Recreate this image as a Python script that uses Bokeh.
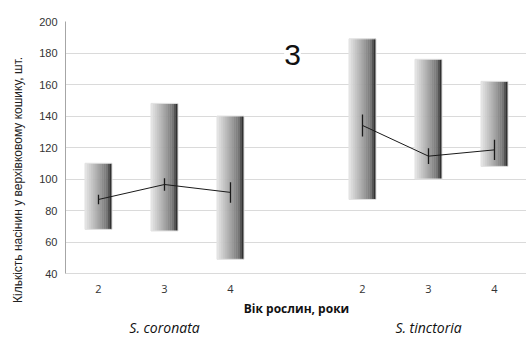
from bokeh.plotting import figure
from bokeh.models import FixedTicker, Range1d, Label
from bokeh.core.properties import value
from bokeh.embed import file_html
from bokeh.resources import INLINE

# ---- data ----
ages = ["2", "3", "4"]
species = ["S. coronata", "S. tinctoria"]
x_title = "Вік рослин, роки"
y_title = "Кількість насінин у верхівковому кошику, шт."
cor_low = [68, 67, 49]
cor_high = [110, 148, 140]
cor_mean = [87, 96.5, 91.5]
cor_err = [3, 4, 6.5]
tin_low = [87, 100, 108]
tin_high = [189, 176, 162]
tin_mean = [134, 114.5, 118.5]
tin_err = [7, 5, 6.5]
y_ticks = [40, 60, 80, 100, 120, 140, 160, 180, 200]
panel_label = "3"

# positions (slot index) for each group; one empty slot between species
cor_pos = [1, 2, 3]
tin_pos = [5, 6, 7]
bar_w = 0.41
n_strips = 40

# layout: value axis 40..200 spans 252 px, frame continues 65 px below it
W, H = 526, 338
left_px, top_px = 65, 21
slot_px = 66
y_lo, y_hi = y_ticks[0], y_ticks[-1]
frame_axis_px = 252
below_px = H - top_px - frame_axis_px
y_start = y_lo - below_px / frame_axis_px * (y_hi - y_lo)
x_end = 0.5 + (W - left_px) / slot_px

p = figure(width=W, height=H, output_backend="svg", toolbar_location=None,
           x_range=Range1d(0.5, x_end), y_range=Range1d(y_start, y_hi),
           min_border_left=left_px, min_border_right=0, min_border_top=top_px,
           min_border_bottom=0)
p.outline_line_color = None
p.background_fill_color = "white"
p.xaxis.visible = False

# gridlines
p.xgrid.grid_line_color = None
p.ygrid.ticker = FixedTicker(ticks=y_ticks)
p.ygrid.grid_line_color = "#b4b4b4"
p.ygrid.grid_line_dash = "1 1"
p.ygrid.grid_line_width = 1


def shade(t):
    if t <= 0.8:
        return 232 - 140 * t
    return 120 - (t - 0.8) / 0.2 * 95


def draw_bars(pos, low, high):
    for x, lo, hi in zip(pos, low, high):
        left0 = x - bar_w / 2
        sw = bar_w / n_strips
        lefts, rights, cols = [], [], []
        for i in range(n_strips):
            t = (i + 0.5) / n_strips
            g = int(shade(t))
            lefts.append(left0 + i * sw)
            rights.append(min(left0 + (i + 1.6) * sw, x + bar_w / 2))
            cols.append("#%02x%02x%02x" % (g, g, g))
        p.quad(left=lefts, right=rights, bottom=[lo] * n_strips, top=[hi] * n_strips,
               fill_color=cols, line_color=None)
        p.quad(left=[left0], right=[x + bar_w / 2], bottom=[lo], top=[hi],
               fill_color=None, line_color="#e2e2e2", line_width=1)


draw_bars(cor_pos, cor_low, cor_high)
draw_bars(tin_pos, tin_low, tin_high)

# mean lines and error bars
for pos, mean, err in ((cor_pos, cor_mean, cor_err), (tin_pos, tin_mean, tin_err)):
    p.line(pos, mean, line_color="#1a1a1a", line_width=1)
    p.segment(x0=pos, x1=pos, y0=[m - e for m, e in zip(mean, err)],
              y1=[m + e for m, e in zip(mean, err)], line_color="#1a1a1a", line_width=1.3)

# panel label
p.add_layout(Label(x=4, y=178.5, x_offset=-4, text=panel_label, text_align="center",
                   text_baseline="middle", text_font="Liberation Sans",
                   text_font_size="30px", text_color="#111111",
                   background_fill_color="white"))

# y axis
ya = p.yaxis[0]
ya.ticker = FixedTicker(ticks=y_ticks)
ya.bounds = (y_lo, y_hi)
ya.axis_line_color = "#a6a6a6"
ya.major_tick_line_color = None
ya.minor_tick_line_color = None
ya.major_tick_out = 0
ya.minor_tick_out = 0
ya.major_label_text_font = "Liberation Sans"
ya.major_label_text_font_size = "11px"
ya.major_label_text_color = "#333333"
ya.major_label_standoff = 8
ya.axis_label = y_title
ya.axis_label_text_font = "Liberation Sans"
ya.axis_label_text_font_style = "normal"
ya.axis_label_text_font_size = "12px"
ya.axis_label_text_color = "#222222"
ya.axis_label_standoff = 11

# category labels (ages), x title and species below the value axis
all_pos = cor_pos + tin_pos
p.text(x=all_pos, y=[y_lo] * len(all_pos), text=ages + ages, y_offset=15,
       text_align="center", text_baseline="middle",
       text_font=value("Open Sans"), text_font_size="11px", text_color="#333333")
p.text(x=[(cor_pos[0] + tin_pos[-1]) / 2], y=[y_lo], text=[x_title], y_offset=35,
       text_align="center", text_baseline="middle",
       text_font=value("Open Sans"), text_font_style="bold",
       text_font_size="12px", text_color="#111111")
p.text(x=[cor_pos[1], tin_pos[1]], y=[y_lo, y_lo], text=species, y_offset=54,
       text_align="center", text_baseline="middle",
       text_font=value("Open Sans"), text_font_style="italic",
       text_font_size="14px", text_color="#111111")

open("out.html", "w").write(file_html(p, INLINE))
